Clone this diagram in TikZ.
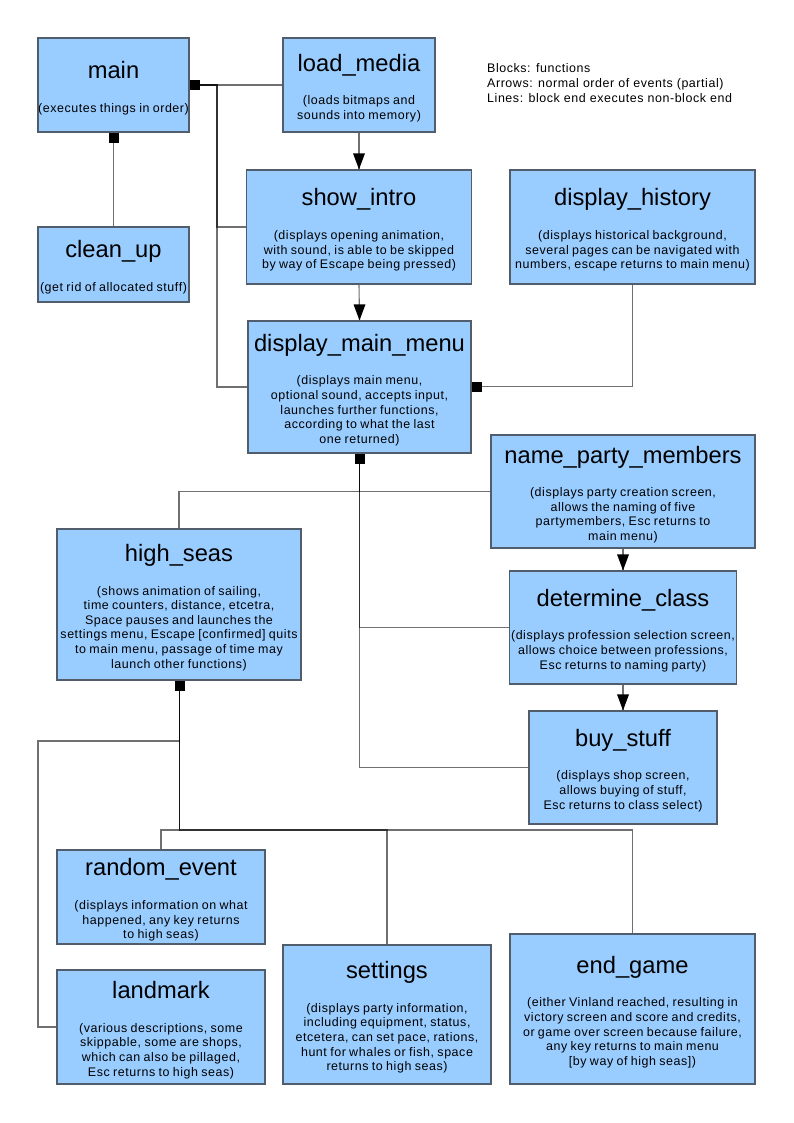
\documentclass[tikz,border=0pt]{standalone}
\usepackage{fontspec}
\setmainfont{Liberation Sans}
\newfontfamily\descfam[LetterSpace=4.5]{Liberation Sans}
\definecolor{blockfill}{HTML}{99CCFF}
\definecolor{blockline}{HTML}{525D6C}
\definecolor{shaftgray}{HTML}{707070}
\newcommand\ttl{\fontsize{23.8}{26}\selectfont}
\newcommand\dsc{\descfam\fontsize{12.5}{14.7}\selectfont}
\newcommand\blk[2]{{\ttl #1\par}\vspace{19bp}{\dsc #2\par}}
% order-of-events arrow: gray shaft, solid black triangular head at the end
\newcommand\flowarrow[2]{%
  \draw[shaft] (#1) -- (#2);
  \fill[black] (#2) -- ++(-6,-16) -- ++(12,0) -- cycle;}
\tikzset{
  block/.style={draw=blockline, fill=blockfill, line width=1.2bp, inner sep=0pt},
  blocktext/.style={text width=330bp, align=center, inner sep=0pt, yshift=-3bp},
  sq/.style={fill=black, draw=none, minimum width=10bp, minimum height=10bp, inner sep=0pt},
  conn/.style={draw=black, draw opacity=0.56, line width=1.1bp},
  shaft/.style={draw=shaftgray, line width=1.1bp}
}
\begin{document}
\begin{tikzpicture}[x=1bp, y=-1bp]
\useasboundingbox (0,0) rectangle (794,1123);
\fill[white] (0,0) rectangle (794,1123);

% function blocks
\node[block, minimum width=151bp, minimum height=94bp]  (main) at (113.5,85) {};
\node[block, minimum width=152bp, minimum height=94bp]  (load) at (359,85) {};
\node[block, minimum width=151bp, minimum height=75bp]  (clean) at (113.5,264.5) {};
\node[block, minimum width=225bp, minimum height=114bp] (intro) at (359,227) {};
\node[block, minimum width=245bp, minimum height=114bp] (hist) at (632.5,227) {};
\node[block, minimum width=223bp, minimum height=132bp] (menu) at (359.5,387) {};
\node[block, minimum width=264bp, minimum height=113bp] (party) at (623,491.5) {};
\node[block, minimum width=244bp, minimum height=151bp] (seas) at (179,604.5) {};
\node[block, minimum width=227bp, minimum height=113bp] (prof) at (623,627.5) {};
\node[block, minimum width=188bp, minimum height=113bp] (buy) at (623,767.5) {};
\node[block, minimum width=208bp, minimum height=94bp]  (event) at (161,897) {};
\node[block, minimum width=208bp, minimum height=114bp] (land) at (161,1027) {};
\node[block, minimum width=208bp, minimum height=139bp] (sett) at (387,1014.5) {};
\node[block, minimum width=245bp, minimum height=150bp] (endg) at (632.5,1009) {};

% block texts
\node[blocktext] (main-t) at (main.center) {\blk{main}{(executes things in order)}};
\node[blocktext] (load-t) at (load.center) {\blk{load\_media}{(loads bitmaps and\\sounds into memory)}};
\node[blocktext] (clean-t) at (clean.center) {\blk{clean\_up}{(get rid of allocated stuff)}};
\node[blocktext] (intro-t) at (intro.center) {\blk{show\_intro}{(displays opening animation,\\with sound, is able to be skipped\\by way of Escape being pressed)}};
\node[blocktext] (hist-t) at (hist.center) {\blk{display\_history}{(displays historical background,\\several pages can be navigated with\\numbers, escape returns to main menu)}};
\node[blocktext] (menu-t) at (menu.center) {\blk{display\_main\_menu}{(displays main menu,\\optional sound, accepts input,\\launches further functions,\\according to what the last\\one returned)}};
\node[blocktext] (party-t) at (party.center) {\blk{name\_party\_members}{(displays party creation screen,\\allows the naming of five\\partymembers, Esc returns to\\main menu)}};
\node[blocktext] (seas-t) at (seas.center) {\blk{high\_seas}{(shows animation of sailing,\\time counters, distance, etcetra,\\Space pauses and launches the\\settings menu, Escape [confirmed] quits\\to main menu, passage of time may\\launch other functions)}};
\node[blocktext] (prof-t) at (prof.center) {\blk{determine\_class}{(displays profession selection screen,\\allows choice between professions,\\Esc returns to naming party)}};
\node[blocktext] (buy-t) at (buy.center) {\blk{buy\_stuff}{(displays shop screen,\\allows buying of stuff,\\Esc returns to class select)}};
\node[blocktext] (event-t) at (event.center) {\blk{random\_event}{(displays information on what\\happened, any key returns\\to high seas)}};
\node[blocktext] (land-t) at (land.center) {\blk{landmark}{(various descriptions, some\\skippable, some are shops,\\which can also be pillaged,\\Esc returns to high seas)}};
\node[blocktext] (sett-t) at (sett.center) {\blk{settings}{(displays party information,\\including equipment, status,\\etcetera, can set pace, rations,\\hunt for whales or fish, space\\returns to high seas)}};
\node[blocktext] (endg-t) at (endg.center) {\blk{end\_game}{(either Vinland reached, resulting in\\victory screen and score and credits,\\or game over screen because failure,\\any key returns to main menu\\{}[by way of high seas])}};

% legend
\node[anchor=north west, align=left, inner sep=0pt, font=\dsc] (legend) at (487,63.5)
  {Blocks: functions\\Arrows: normal order of events (partial)\\Lines: block end executes non-block end};

% block ends
\node[sq] (main-r) at (195,85) {};
\node[sq] (main-b) at (113.5,138) {};
\node[sq] (menu-r) at (477,386.5) {};
\node[sq] (menu-b) at (359.5,459) {};
\node[sq] (seas-b) at (179.5,686) {};

% routing points
\coordinate (jmain) at (217,85);
\coordinate (jmenu) at (menu-b |- party.west);
\coordinate (jseas) at (179.5,830);
\coordinate (jland) at (179.5,741);
\coordinate (jlandl) at (38,741);

% lines: block end executes non-block end
\draw[conn] (main-r.center) -- (main-r -| load.west);
\draw[conn] (main-r.center) -- (jmain) |- (intro.west);
\draw[conn] (main-r.center) -- (jmain) |- (menu.west);
\draw[conn] (main-b.center) -- (clean.north);
\draw[conn] (menu-r.center) -| (hist.south);
\draw[conn] (menu-b.center) -- (jmenu) -- (party.west);
\draw[conn] (menu-b.center) -- (jmenu) -| (seas.north);
\draw[conn] (menu-b.center) |- (prof.west);
\draw[conn] (menu-b.center) |- (buy.west);
\draw[conn] (seas-b.center) -- (jseas) -| (event.north);
\draw[conn] (seas-b.center) -- (jseas) -| (sett.north);
\draw[conn] (seas-b.center) -- (jseas) -| (endg.north);
\draw[conn] (seas-b.center) -- (jland) -- (jlandl) |- (land.west);

% arrows: normal order of events
\flowarrow{load.south}{intro.north}
\flowarrow{intro.south}{menu.north}
\flowarrow{party.south}{prof.north}
\flowarrow{prof.south}{buy.north}
\end{tikzpicture}
\end{document}
